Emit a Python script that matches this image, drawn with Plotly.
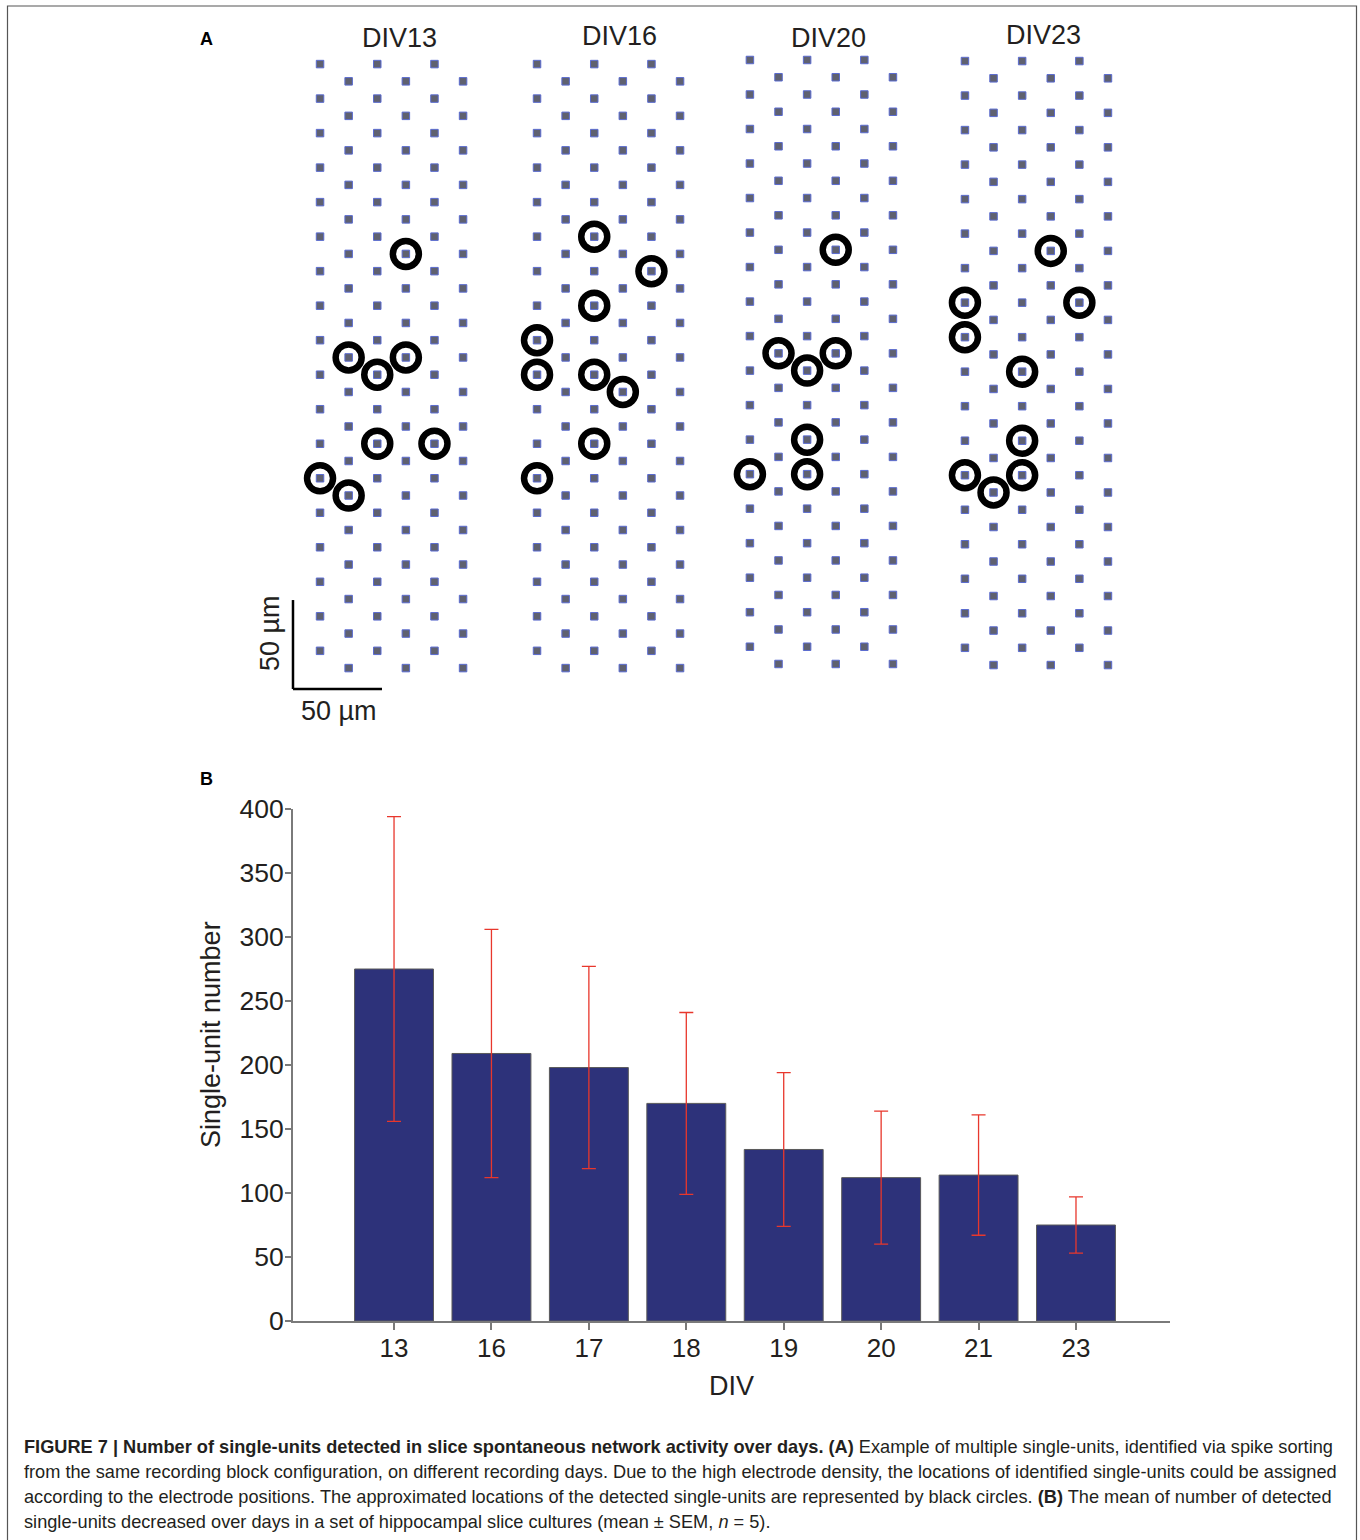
import plotly.graph_objects as go

# ---------------- data ----------------
# Panel B: single-unit counts per recording day (mean and SEM, n = 5)
div_days = ["13", "16", "17", "18", "19", "20", "21", "23"]
mean_units = [275, 209, 198, 170, 134, 112, 114, 75]
sem_units = [119, 97, 79, 71, 60, 52, 47, 22]

# Panel A: detected single-units as (column, row) electrode indices per day
panel_titles = ["DIV13", "DIV16", "DIV20", "DIV23"]
units_div13 = [(3, 11), (1, 17), (2, 18), (3, 17), (2, 22), (4, 22), (0, 24), (1, 25)]
units_div16 = [(2, 10), (4, 12), (2, 14), (0, 16), (0, 18), (2, 18), (3, 19), (2, 22), (0, 24)]
units_div20 = [(3, 11), (1, 17), (2, 18), (3, 17), (2, 22), (0, 24), (2, 24)]
units_div23 = [(3, 11), (0, 14), (4, 14), (0, 16), (2, 18), (2, 22), (0, 24), (2, 24), (1, 25)]
units_by_day = [units_div13, units_div16, units_div20, units_div23]

# ---------------- layout constants ----------------
W, H = 1360, 1540
FONT = "Liberation Sans, Arial, Helvetica, sans-serif"
TXT = "#231f20"


def px(x):
    return x / W


def py(y):
    return 1 - y / H


# electrode array geometry (micrometres); panel A axis maps 1 um -> 1.78 px
UM_PX = 1.78
PANEL_A_HEIGHT_PX = 760
COL_PITCH = 16.07
ROW_PITCH = 9.695
N_ROWS = 36
grid_origins = [(179.8, 36.0), (301.7, 36.0), (421.3, 33.7), (542.1, 34.3)]
title_pos = [(224.2, 21.3), (348.3, 20.2), (465.7, 21.3), (586.5, 19.7)]

fig = go.Figure()

# ---------------- panel A: electrode grids ----------------
for (ox, oy), units in zip(grid_origins, units_by_day):
    ex, ey = [], []
    for r in range(N_ROWS):
        cols = (0, 2, 4) if r % 2 == 0 else (1, 3, 5)
        for c in cols:
            ex.append(ox + c * COL_PITCH)
            ey.append(oy + r * ROW_PITCH)
    fig.add_trace(go.Scatter(
        x=ex, y=ey, mode="markers", xaxis="x2", yaxis="y2",
        marker=dict(symbol="square", size=7.5, color="#5f6170",
                    line=dict(color="#5a6bd0", width=1)),
        hoverinfo="skip", showlegend=False,
    ))
    fig.add_trace(go.Scatter(
        x=[ox + c * COL_PITCH for c, r in units],
        y=[oy + r * ROW_PITCH for c, r in units],
        mode="markers", xaxis="x2", yaxis="y2",
        marker=dict(symbol="circle-open", size=26, color="black",
                    line=dict(color="black", width=6.5)),
        hoverinfo="skip", showlegend=False,
    ))

# ---------------- panel B: bar chart ----------------
fig.add_trace(go.Bar(
    x=div_days, y=mean_units, width=0.81,
    marker=dict(color="#2d327a", line=dict(color="#5a5a5a", width=1)),
    error_y=dict(type="data", array=sem_units, visible=True,
                 color="#e8372c", thickness=1.3, width=7),
    showlegend=False,
))

annotations = []

# panel labels
for lab, ly in (("A", 39), ("B", 779)):
    annotations.append(dict(text=f"<b>{lab}</b>", x=px(207), y=py(ly), xref="paper", yref="paper",
                            xanchor="center", yanchor="middle", showarrow=False,
                            font=dict(size=18, family=FONT, color="black")))

# grid titles
for t, (tx, ty) in zip(panel_titles, title_pos):
    annotations.append(dict(text=t, x=tx, y=ty, xref="x2", yref="y2", showarrow=False,
                            xanchor="center", yanchor="middle",
                            font=dict(size=27, family=FONT, color=TXT)))

# scale bar (50 um in each direction)
sb_x, sb_y = 164.6, 387.1
shapes = [
    dict(type="line", xref="x2", yref="y2", x0=sb_x, x1=sb_x, y0=sb_y, y1=sb_y - 50,
         line=dict(color="black", width=2.5)),
    dict(type="line", xref="x2", yref="y2", x0=sb_x, x1=sb_x + 50, y0=sb_y, y1=sb_y,
         line=dict(color="black", width=2.5)),
]
annotations.append(dict(text="50 µm", x=sb_x + 25.8, y=sb_y + 12.4, xref="x2", yref="y2",
                        showarrow=False, xanchor="center", yanchor="middle",
                        font=dict(size=27, family=FONT, color=TXT)))
annotations.append(dict(text="50 µm", x=sb_x - 12.9, y=sb_y - 31.5, xref="x2", yref="y2",
                        showarrow=False, xanchor="center", yanchor="middle", textangle=-90,
                        font=dict(size=27, family=FONT, color=TXT)))

# axis titles for panel B
annotations.append(dict(text="Single-unit number", x=px(211), y=py(1035), xref="paper",
                        yref="paper", showarrow=False, textangle=-90,
                        xanchor="center", yanchor="middle",
                        font=dict(size=27, family=FONT, color=TXT)))
annotations.append(dict(text="DIV", x=px(731), y=py(1386), xref="paper", yref="paper",
                        showarrow=False, xanchor="center", yanchor="middle",
                        font=dict(size=27, family=FONT, color=TXT)))

# caption
caption_lines = [
    "<b>FIGURE 7 | Number of single-units detected in slice spontaneous network activity over days. (A)</b>"
    " Example of multiple single-units, identified via spike sorting",
    "from the same recording block configuration, on different recording days. Due to the high electrode"
    " density, the locations of identified single-units could be assigned",
    "according to the electrode positions. The approximated locations of the detected single-units are"
    " represented by black circles. <b>(B)</b> The mean of number of detected",
    "single-units decreased over days in a set of hippocampal slice cultures (mean ± SEM, <i>n</i> = 5).",
]
for i, line in enumerate(caption_lines):
    annotations.append(dict(text=line, x=px(22), y=py(1447 + 25 * i), xref="paper", yref="paper",
                            showarrow=False, xanchor="left", yanchor="middle", align="left",
                            font=dict(size=18.2, family=FONT, color=TXT)))

# outer frame
shapes.append(dict(type="rect", xref="paper", yref="paper", x0=px(7.5), x1=px(1356.5),
                   y0=py(1560), y1=py(6), line=dict(color="#555555", width=1.2)))

axis_grey = "#7a7a7a"
fig.update_layout(
    width=W, height=H,
    margin=dict(l=0, r=0, t=0, b=0, autoexpand=False),
    paper_bgcolor="white", plot_bgcolor="rgba(0,0,0,0)",
    font=dict(family=FONT, color=TXT),
    bargap=0.19,
    xaxis=dict(
        domain=[px(293), px(1170)], type="category", range=[-1.037, 7.965],
        showline=True, linecolor=axis_grey, linewidth=2,
        ticks="outside", ticklen=7, tickwidth=1.5, tickcolor=axis_grey,
        ticklabelstandoff=-4,
        tickfont=dict(size=26, family=FONT, color=TXT),
        showgrid=False, zeroline=False, fixedrange=True, automargin=False,
    ),
    yaxis=dict(
        domain=[py(1321), py(809)], range=[0, 400],
        tickvals=[0, 50, 100, 150, 200, 250, 300, 350, 400],
        showline=True, linecolor=axis_grey, linewidth=2,
        ticks="outside", ticklen=6, tickwidth=1.5, tickcolor=axis_grey,
        ticklabelstandoff=-4,
        tickfont=dict(size=26.5, family=FONT, color=TXT),
        showgrid=False, zeroline=False, fixedrange=True, automargin=False,
    ),
    xaxis2=dict(domain=[0, 1], range=[0, W / UM_PX], visible=False, fixedrange=True),
    yaxis2=dict(domain=[py(PANEL_A_HEIGHT_PX), 1], range=[PANEL_A_HEIGHT_PX / UM_PX, 0],
                visible=False, fixedrange=True),
    annotations=annotations,
    shapes=shapes,
)

fig.write_html("out.html")
